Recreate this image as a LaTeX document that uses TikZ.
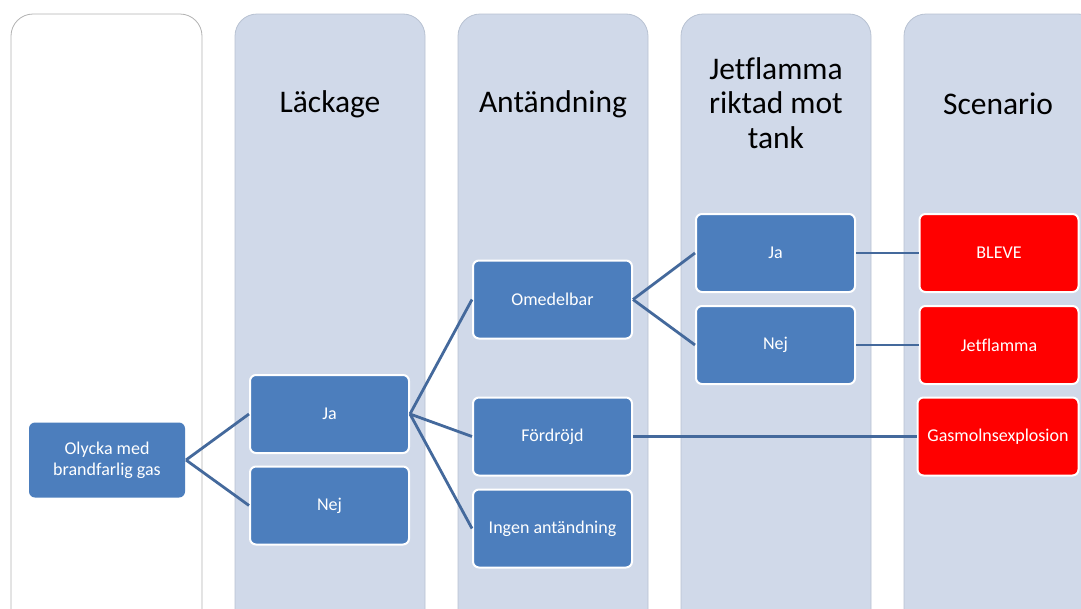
\documentclass[tikz,border=0pt]{standalone}
\usepackage{fontspec}
\setmainfont[Ligatures=NoCommon]{Carlito}
\definecolor{colfill}{HTML}{D0D9E9}
\definecolor{colline}{HTML}{B8C2D2}
\definecolor{boxblue}{HTML}{4C7EBD}
\definecolor{conn}{HTML}{44699C}
\definecolor{scenred}{HTML}{FF0000}
\tikzset{
  column/.style={draw=colline, line width=0.8pt, fill=colfill, rounded corners=22pt},
  whitecol/.style={draw=black!30, line width=0.8pt, fill=white, rounded corners=22pt},
  header/.style={font=\fontsize{31.5}{34.5}\selectfont, text=black, align=center},
  box/.style={draw=white, line width=2pt, fill=boxblue, rounded corners=6pt, minimum width=159pt, minimum height=78pt, text=white, font=\fontsize{18}{21}\selectfont, align=center, inner sep=0pt},
  redbox/.style={box, fill=scenred},
  link/.style={draw=conn, line width=2.8pt}
}
\begin{document}
\begin{tikzpicture}[x=1pt,y=-1pt]
\useasboundingbox (0,0) rectangle (1081,608);
\path[whitecol] (11,14) rectangle (202,640);
\path[column] (235,14) rectangle (425,640);
\path[column] (458,14) rectangle (648,640);
\path[column] (681,14) rectangle (871,640);
\path[column] (904,14) rectangle (1100,640);

\node[header] (h2) at (330,104) {Läckage};
\node[header] (h3) at (553,104) {Antändning};
\node[header] (h4) at (776,103) {Jetflamma\\riktad mot\\tank};
\node[header] (h5) at (998,104) {Scenario};

\node[box, draw=none, minimum width=156pt, minimum height=75pt] (olycka) at (107,460) {Olycka med\\brandfarlig gas};
\node[box] (ja2) at (329.5,414) {Ja};
\node[box] (nej2) at (329.5,505.5) {Nej};
\node[box] (omed) at (552.5,299.5) {Omedelbar};
\node[box] (ford) at (552.5,436.5) {Fördröjd};
\node[box] (ingen) at (552.5,528.5) {Ingen antändning};
\node[box] (ja4) at (775.5,253) {Ja};
\node[box] (nej4) at (775.5,345) {Nej};
\node[redbox] (bleve) at (999,253) {BLEVE};
\node[redbox] (jet) at (999,345) {Jetflamma};
\node[redbox, minimum width=161pt] (gas) at (998,436.5) {Gasmolnsexplosion};

\draw[link] (olycka.east) -- (ja2.west);
\draw[link] (olycka.east) -- (nej2.west);
\draw[link] (ja2.east) -- (omed.west);
\draw[link] (ja2.east) -- (ford.west);
\draw[link] (ja2.east) -- (ingen.west);
\draw[link] (omed.east) -- (ja4.west);
\draw[link] (omed.east) -- (nej4.west);
\draw[link] (ja4.east) -- (bleve.west);
\draw[link] (nej4.east) -- (jet.west);
\draw[link] (ford.east) -- (gas.west);
\end{tikzpicture}
\end{document}
